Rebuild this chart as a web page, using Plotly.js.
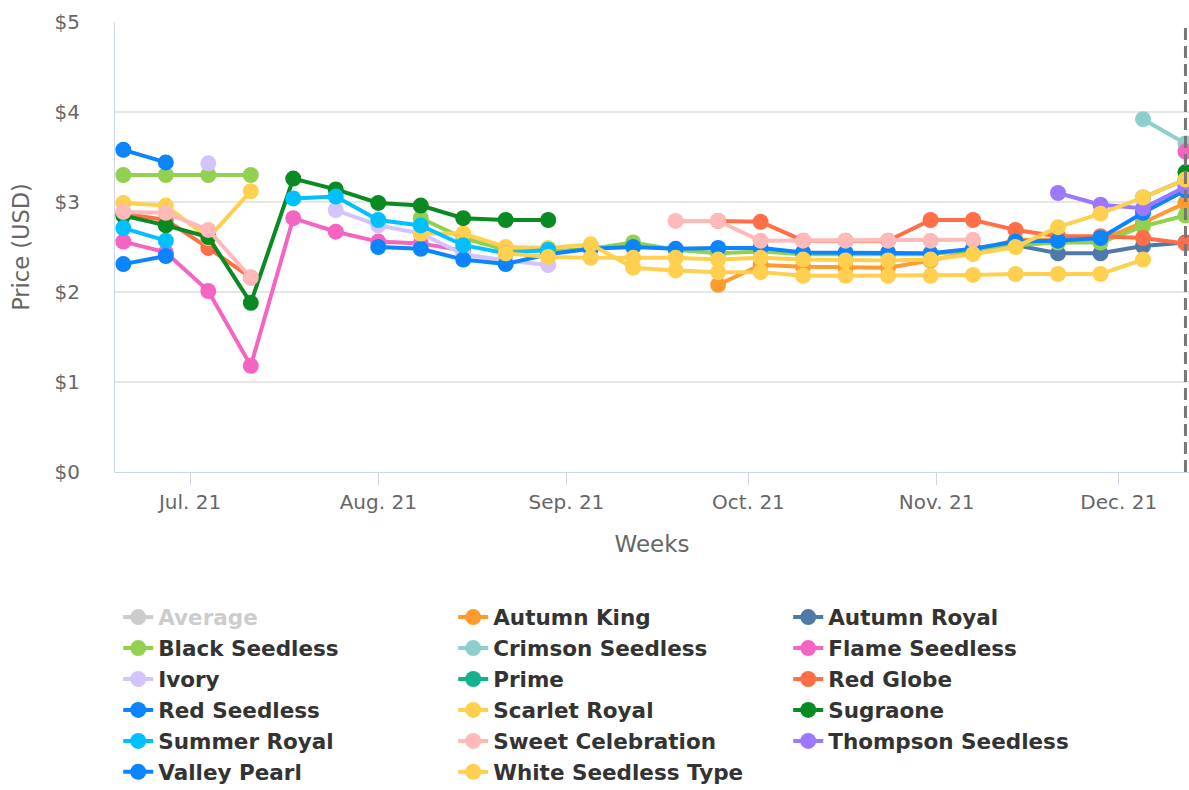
<!DOCTYPE html>
<html>
<head>
<meta charset="utf-8">
<script src="https://cdn.plot.ly/plotly-3.0.1.min.js"></script>
<style>
html,body{margin:0;padding:0;background:#fff;}
#chart{width:1189px;height:790px;}
</style>
</head>
<body>
<div id="chart"></div>
<script>
var weeks = ['2021-06-20','2021-06-27','2021-07-04','2021-07-11','2021-07-18','2021-07-25','2021-08-01','2021-08-08','2021-08-15','2021-08-22','2021-08-29','2021-09-05','2021-09-12','2021-09-19','2021-09-26','2021-10-03','2021-10-10','2021-10-17','2021-10-24','2021-10-31','2021-11-07','2021-11-14','2021-11-21','2021-11-28','2021-12-05','2021-12-12'];

var tickDates = ['2021-07-01','2021-08-01','2021-09-01','2021-10-01','2021-11-01','2021-12-01'];
var tickLabels = ['Jul. 21','Aug. 21','Sep. 21','Oct. 21','Nov. 21','Dec. 21'];
var yTicks = [0,1,2,3,4,5];
var yTickLabels = ['$0','$1','$2','$3','$4','$5'];
var currentWeek = '2021-12-12';

var average = [null,null,null,null,null,null,null,null,null,null,null,null,null,null,null,null,null,null,null,null,null,null,null,null,null,null];
var autumnKing = [null,null,null,null,null,null,null,null,null,null,null,null,null,null,2.08,2.30,2.28,2.27,2.27,2.35,2.45,2.58,2.58,2.58,2.77,2.99];
var autumnRoyal = [null,null,null,null,null,null,null,null,null,null,null,null,null,null,null,null,null,null,null,null,2.48,2.52,2.43,2.43,2.51,2.55];
var blackSeedless = [3.30,3.30,3.30,3.30,null,null,null,2.82,2.60,2.47,2.45,2.48,2.55,2.47,2.43,2.45,2.42,2.42,2.42,2.42,2.47,2.52,2.55,2.55,2.73,2.85];
var crimsonSeedless = [null,null,null,null,null,null,null,null,null,null,null,null,null,null,null,null,null,null,null,null,null,null,null,null,3.92,3.65];
var flameSeedless = [2.56,2.44,2.01,1.18,2.82,2.67,2.56,2.54,2.46,null,null,null,null,null,null,null,null,null,null,null,null,null,null,null,null,3.56];
var ivory = [null,null,3.43,null,null,2.91,2.74,2.65,2.42,2.35,2.30,null,null,null,null,null,null,null,null,null,null,null,null,null,null,null];
var prime = [null,null,null,null,null,null,null,null,null,null,null,null,null,null,null,null,null,null,null,null,null,null,null,null,3.05,3.25];
var redGlobe = [2.87,2.80,2.49,2.16,null,null,null,null,null,null,null,null,null,null,2.79,2.78,2.57,2.57,2.57,2.80,2.80,2.69,2.62,2.62,2.60,2.54];
var redSeedless = [3.58,3.44,null,null,null,null,2.50,2.48,2.36,2.31,2.42,2.48,2.50,2.48,2.49,2.49,2.44,2.44,2.44,2.43,2.48,2.56,2.57,2.60,2.88,3.13];
var scarletRoyal = [2.99,2.96,2.60,3.12,null,null,null,2.65,2.65,2.50,2.49,2.53,2.27,2.24,2.22,2.22,2.18,2.18,2.18,2.18,2.19,2.20,2.20,2.20,2.36,null];
var sugraone = [2.85,2.74,2.61,1.88,3.26,3.14,2.99,2.96,2.82,2.80,2.80,null,null,null,null,null,null,null,null,null,null,null,null,null,null,3.33];
var summerRoyal = [2.71,2.57,null,null,3.04,3.06,2.80,2.74,2.52,2.43,2.47,null,null,null,null,null,null,null,null,null,null,null,null,null,null,null];
var sweetCelebration = [2.89,2.88,2.69,2.16,null,null,null,null,null,null,null,null,null,2.79,2.79,2.57,2.57,2.57,2.57,2.57,2.58,null,null,null,null,null];
var thompsonSeedless = [null,null,null,null,null,null,null,null,null,null,null,null,null,null,null,null,null,null,null,null,null,null,3.10,2.97,2.93,3.17];
var valleyPearl = [2.31,2.40,null,null,null,null,null,null,null,null,null,null,null,null,null,null,null,null,null,null,null,null,null,null,null,null];
var whiteSeedlessType = [null,null,null,null,null,null,null,null,null,2.43,2.39,2.38,2.38,2.38,2.36,2.38,2.36,2.35,2.35,2.36,2.42,2.50,2.72,2.87,3.05,3.25];

var seriesNames = ['Average','Autumn King','Autumn Royal','Black Seedless','Crimson Seedless','Flame Seedless','Ivory','Prime','Red Globe','Red Seedless','Scarlet Royal','Sugraone','Summer Royal','Sweet Celebration','Thompson Seedless','Valley Pearl','White Seedless Type'];
var seriesValues = [average,autumnKing,autumnRoyal,blackSeedless,crimsonSeedless,flameSeedless,ivory,prime,redGlobe,redSeedless,scarletRoyal,sugraone,summerRoyal,sweetCelebration,thompsonSeedless,valleyPearl,whiteSeedlessType];
var seriesColors = ['#999999','#ff9a2e','#4f7aa8','#92d050','#8ecfcb','#f564c1','#d4c4fb','#12b38a','#ff6e47','#0a84ff','#ffd04f','#0a8a22','#00c0ff','#ffb9b9','#9b78ff','#0a84ff','#ffd04f'];

var traces = seriesNames.map(function(n, i){
  var t = {
    type: 'scatter',
    mode: 'lines+markers',
    x: weeks,
    y: seriesValues[i],
    name: i === 0 ? '<span style="color:#999999">' + n + '</span>' : n,
    line: {color: seriesColors[i], width: 4},
    marker: {color: seriesColors[i], size: 16},
    connectgaps: false,
    hoverinfo: 'x+y+name'
  };
  if (i === 0) t.visible = 'legendonly';
  return t;
});

var layout = {
  width: 1189,
  height: 790,
  margin: {l: 115, r: 0, t: 22, b: 318},
  paper_bgcolor: '#ffffff',
  plot_bgcolor: '#ffffff',
  font: {family: 'DejaVu Sans, sans-serif', color: '#666666'},
  showlegend: true,
  xaxis: {
    type: 'date',
    range: ['2021-06-18 15:00', '2021-12-12 14:00'],
    tickmode: 'array',
    tickvals: tickDates,
    ticktext: tickLabels,
    tickfont: {size: 20, color: '#666666'},
    ticks: 'outside',
    ticklen: 12,
    tickcolor: '#ccd6eb',
    tickwidth: 1,
    showgrid: false,
    showline: true,
    linecolor: '#ccd6eb',
    linewidth: 1,
    zeroline: false,
    automargin: false,
    title: {text: 'Weeks', font: {size: 23, color: '#666666'}, standoff: 22}
  },
  yaxis: {
    range: [0, 5],
    tickmode: 'array',
    tickvals: yTicks,
    ticktext: yTickLabels,
    tickfont: {size: 20, color: '#666666'},
    ticklabelstandoff: 30,
    showgrid: true,
    gridcolor: '#e6e6e6',
    gridwidth: 1.5,
    showline: true,
    linecolor: '#ccd6eb',
    linewidth: 1,
    zeroline: false,
    automargin: false,
    title: {text: 'Price (USD)', font: {size: 22.5, color: '#666666'}, standoff: 18}
  },
  legend: {
    orientation: 'h',
    x: 0.003,
    xanchor: 'left',
    yref: 'container',
    y: 0.2448,
    yanchor: 'top',
    entrywidth: 290,
    entrywidthmode: 'pixels',
    font: {size: 21.5, color: '#333333', family: 'DejaVu Sans, sans-serif', weight: 'bold'},
    itemclick: false,
    itemdoubleclick: false,
    tracegroupgap: 0
  },
  shapes: [{
    type: 'line',
    xref: 'x', yref: 'paper',
    x0: currentWeek, x1: currentWeek,
    y0: 0, y1: 1,
    line: {color: '#777777', width: 3, dash: '12px,6px'},
    layer: 'above'
  }]
};

Plotly.newPlot('chart', traces, layout, {displayModeBar: false, staticPlot: true});
</script>
</body>
</html>
